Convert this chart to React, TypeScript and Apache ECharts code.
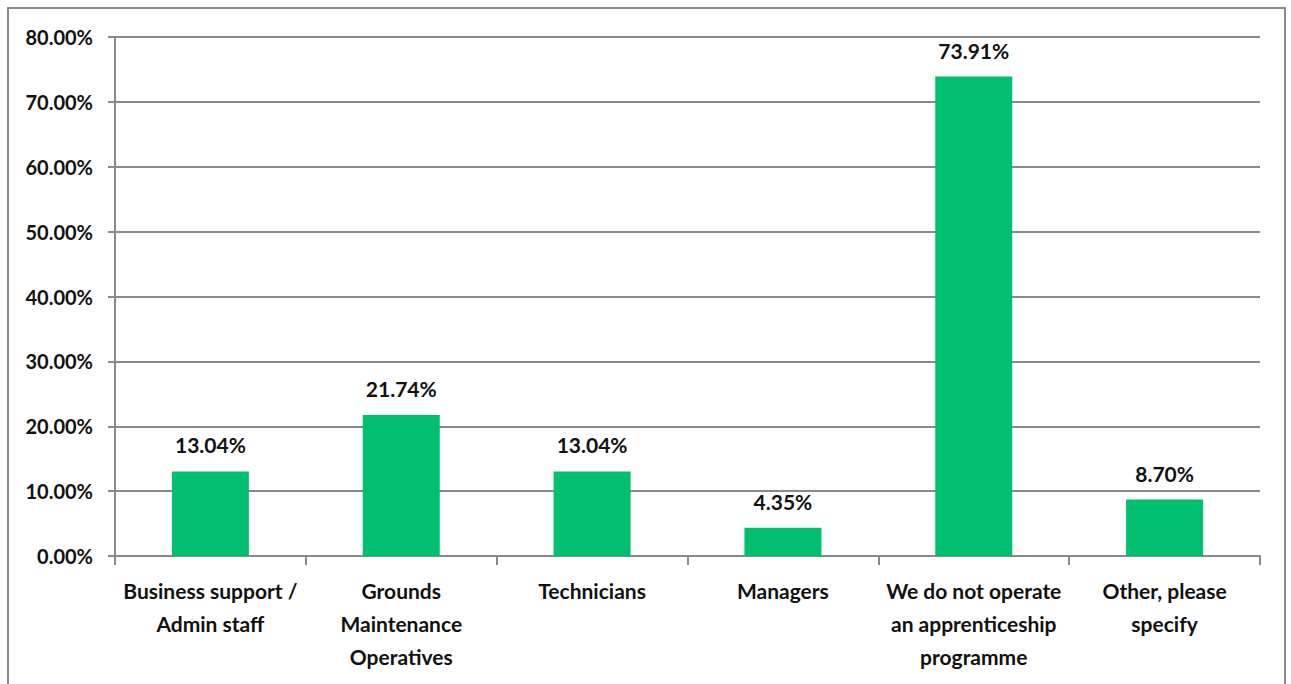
import React, { useEffect, useRef } from "react";
import * as echarts from "echarts";

const categories = [
  "Business support /\nAdmin staff",
  "Grounds\nMaintenance\nOperatives",
  "Technicians",
  "Managers",
  "We do not operate\nan apprenticeship\nprogramme",
  "Other, please\nspecify",
];
const values = [13.04, 21.74, 13.04, 4.35, 73.91, 8.7];
const yTicks = { min: 0, max: 80, interval: 10 };

export default function App() {
  const ref = useRef<HTMLDivElement>(null);
  useEffect(() => {
    const chart = echarts.init(ref.current!, null, { renderer: "svg" });
    const font = "Lato, 'Open Sans', sans-serif";
    chart.setOption({
      animation: false,
      backgroundColor: "#fff",
      graphic: [
        {
          type: "rect",
          shape: { x: 8, y: 8, width: 1277, height: 700 },
          style: { fill: "none", stroke: "#8a8a8a", lineWidth: 2 },
          silent: true,
        },
      ],
      grid: { left: 115, right: 31, top: 37, bottom: 128 },
      xAxis: {
        type: "category",
        data: categories,
        axisLine: { lineStyle: { color: "#8a8a8a", width: 2 } },
        axisTick: { show: true, length: 9, lineStyle: { color: "#8a8a8a", width: 2 } },
        axisLabel: {
          color: "#111",
          fontFamily: font,
          fontWeight: "bold",
          fontSize: 21,
          lineHeight: 33,
          margin: 18,
          interval: 0,
        },
      },
      yAxis: {
        type: "value",
        min: yTicks.min,
        max: yTicks.max,
        interval: yTicks.interval,
        axisLine: { show: true, lineStyle: { color: "#8a8a8a", width: 2 } },
        axisTick: { show: true, length: 7, lineStyle: { color: "#8a8a8a", width: 2 } },
        splitLine: { lineStyle: { color: "#8a8a8a", width: 2 } },
        axisLabel: {
          color: "#111",
          fontFamily: font,
          fontWeight: "bold",
          fontSize: 20,
          margin: 22,
          formatter: (v: number) => v.toFixed(2) + "%",
        },
      },
      series: [
        {
          type: "bar",
          data: values,
          barWidth: 77,
          itemStyle: { color: "#00BF6F" },
          label: {
            show: true,
            position: "top",
            distance: 16,
            color: "#111",
            fontFamily: font,
            fontWeight: "bold",
            fontSize: 21,
            formatter: (p: any) => p.value.toFixed(2) + "%",
          },
        },
      ],
    });
    return () => chart.dispose();
  }, []);
  return (
    <div
      ref={ref}
      style={{ position: "fixed", left: 0, top: 0, width: 1291, height: 684 }}
    />
  );
}
